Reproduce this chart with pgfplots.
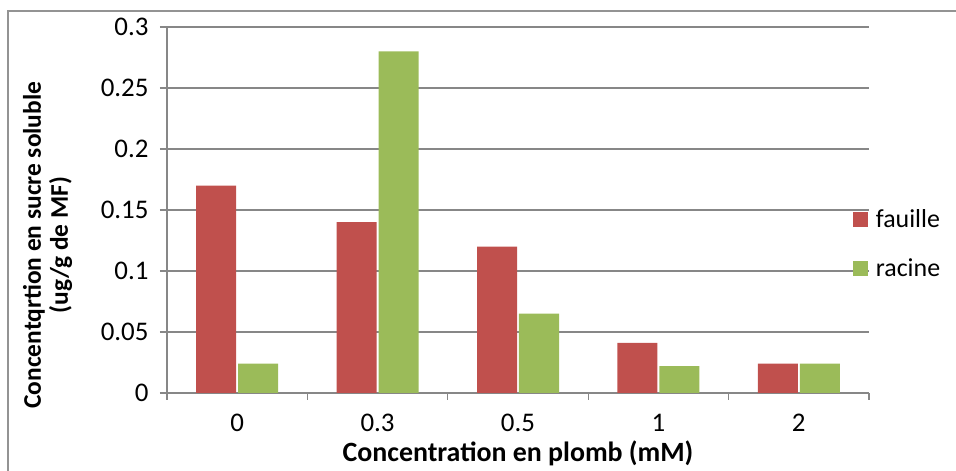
\documentclass[border=0pt]{standalone}
\usepackage{fontspec}
\setmainfont{Carlito}
\usepackage{pgfplots}
\pgfplotsset{compat=1.18}
\definecolor{cRed}{HTML}{C0504D}
\definecolor{cGreen}{HTML}{9BBB59}
\definecolor{cGrid}{HTML}{878787}
\newcommand{\tfont}{\fontsize{27}{30}\selectfont}
\newcommand{\gfont}{\fontsize{26}{30}\selectfont}
\newcommand{\lfont}{\fontsize{28}{30}\selectfont\bfseries}
\newcommand{\ylfont}{\fontsize{25.5}{27}\selectfont\bfseries}
\begin{document}
\begin{tikzpicture}[x=1bp,y=1bp]
\path[use as bounding box] (-167,-78) rectangle (789,393);
\draw[cGrid!90, line width=1.2bp] (-159,-100) rectangle (810,382);
\begin{axis}[
  at={(0,0)}, anchor=south west,
  scale only axis, width=702bp, height=366bp,
  xmin=-0.5, xmax=4.5, ymin=0, ymax=0.3,
  axis lines*=left,
  axis line style={cGrid, line width=1.2bp, -},
  ybar, bar width=40bp,
  ytick={0,0.05,0.1,0.15,0.2,0.25,0.3},
  yticklabels={0,0.05,0.1,0.15,0.2,0.25,0.3},
  xtick={-0.5,0.5,1.5,2.5,3.5,4.5},
  xticklabels={},
  extra x ticks={0,1,2,3,4},
  extra x tick labels={0,0.3,0.5,1,2},
  extra x tick style={major tick length=0pt, xmajorgrids=false},
  tick align=outside, major tick length=7bp,
  tick style={cGrid, line width=1.2bp},
  ymajorgrids, grid style={cGrid, line width=1.2bp},
  tick label style={font=\tfont, text=black},
  yticklabel style={xshift=-8bp},
  xticklabel style={yshift=-18bp},
  xlabel={Concentration en plomb (mM)},
  xlabel style={font=\lfont, at={(axis description cs:0.5,-0.166)}, anchor=center},
  ylabel={\begin{tabular}{@{}c@{}}Concentqrtion en sucre soluble\\(ug/g de MF)\end{tabular}},
  ylabel style={font=\ylfont, at={(axis description cs:-0.168,0.404)}, anchor=center},
  legend style={at={(axis description cs:0.977,0.407)}, anchor=west, draw=none, fill=none,
    font=\gfont, row sep=26bp, column sep=6bp, inner sep=0pt, outer sep=0pt},
  legend cell align=left,
  legend image code/.code={\fill[#1] (0bp,-7.5bp) rectangle (15bp,7.5bp);},
]
\addplot[fill=cRed, draw=none] coordinates {(0,0.17) (1,0.14) (2,0.12) (3,0.041) (4,0.024)};
\addplot[fill=cGreen, draw=none] coordinates {(0,0.024) (1,0.28) (2,0.065) (3,0.022) (4,0.024)};
\legend{fauille,racine}
\end{axis}
\end{tikzpicture}
\end{document}
